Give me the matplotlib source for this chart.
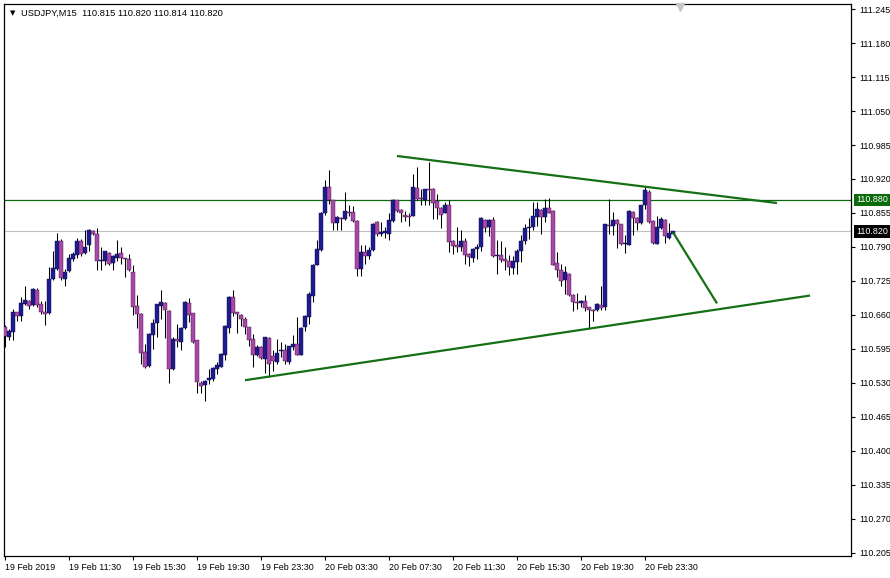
import numpy as np
import matplotlib
matplotlib.use("Agg")
import matplotlib.pyplot as plt
import matplotlib.transforms as mtransforms

plt.rcParams['font.family'] = ['Liberation Sans', 'DejaVu Sans']

# USDJPY M15, bars from 19 Feb 07:30 onwards
opens = [110.636, 110.617, 110.627, 110.665, 110.657, 110.681, 110.686, 110.678, 110.708, 110.681,
         110.666, 110.663, 110.729, 110.747, 110.801, 110.729, 110.744, 110.767, 110.774, 110.801,
         110.778, 110.793, 110.820, 110.814, 110.764, 110.763, 110.778, 110.759, 110.769, 110.778,
         110.768, 110.767, 110.742, 110.677, 110.662, 110.589, 110.563, 110.622, 110.645, 110.677,
         110.682, 110.668, 110.556, 110.614, 110.609, 110.634, 110.683, 110.663, 110.611, 110.530,
         110.525, 110.536, 110.537, 110.556, 110.561, 110.584, 110.635, 110.695, 110.665, 110.660,
         110.652, 110.636, 110.613, 110.583, 110.598, 110.576, 110.616, 110.582, 110.569, 110.591,
         110.592, 110.569, 110.598, 110.604, 110.584, 110.636, 110.655, 110.696, 110.756, 110.785,
         110.854, 110.905, 110.879, 110.836, 110.846, 110.844, 110.857, 110.857, 110.840, 110.748,
         110.780, 110.772, 110.785, 110.838, 110.815, 110.817, 110.815, 110.840, 110.879, 110.861,
         110.852, 110.850, 110.850, 110.903, 110.884, 110.880, 110.901, 110.901, 110.878, 110.864,
         110.855, 110.870, 110.801, 110.793, 110.790, 110.802, 110.776, 110.769, 110.786, 110.790,
         110.842, 110.828, 110.842, 110.773, 110.774, 110.766, 110.764, 110.750, 110.761, 110.783,
         110.802, 110.826, 110.828, 110.848, 110.861, 110.847, 110.865, 110.859, 110.759, 110.745,
         110.726, 110.739, 110.699, 110.685, 110.683, 110.687, 110.675, 110.669, 110.670, 110.679,
         110.675, 110.832, 110.831, 110.841, 110.833, 110.795, 110.794, 110.857, 110.846, 110.836,
         110.870, 110.896, 110.839, 110.796, 110.827, 110.842, 110.808, 110.815]
highs = [110.640, 110.633, 110.671, 110.666, 110.694, 110.716, 110.689, 110.712, 110.711, 110.687,
         110.687, 110.751, 110.783, 110.817, 110.806, 110.748, 110.777, 110.780, 110.808, 110.806,
         110.822, 110.825, 110.822, 110.827, 110.790, 110.783, 110.780, 110.774, 110.804, 110.790,
         110.769, 110.777, 110.755, 110.699, 110.663, 110.604, 110.625, 110.652, 110.681, 110.708,
         110.684, 110.670, 110.617, 110.643, 110.636, 110.687, 110.692, 110.664, 110.612, 110.534,
         110.535, 110.556, 110.560, 110.569, 110.588, 110.640, 110.696, 110.707, 110.666, 110.662,
         110.655, 110.637, 110.623, 110.603, 110.601, 110.618, 110.617, 110.592, 110.614, 110.608,
         110.604, 110.601, 110.622, 110.655, 110.636, 110.660, 110.703, 110.758, 110.804, 110.857,
         110.919, 110.938, 110.880, 110.850, 110.848, 110.895, 110.870, 110.868, 110.841, 110.793,
         110.793, 110.790, 110.836, 110.839, 110.838, 110.828, 110.854, 110.882, 110.880, 110.863,
         110.859, 110.854, 110.930, 110.943, 110.901, 110.901, 110.953, 110.903, 110.892, 110.866,
         110.876, 110.879, 110.804, 110.829, 110.822, 110.808, 110.778, 110.788, 110.796, 110.847,
         110.844, 110.844, 110.847, 110.804, 110.802, 110.790, 110.774, 110.772, 110.786, 110.812,
         110.833, 110.846, 110.876, 110.876, 110.863, 110.882, 110.884, 110.860, 110.780, 110.758,
         110.753, 110.740, 110.700, 110.701, 110.689, 110.699, 110.676, 110.671, 110.682, 110.716,
         110.834, 110.882, 110.857, 110.844, 110.834, 110.812, 110.860, 110.858, 110.848, 110.871,
         110.905, 110.898, 110.842, 110.850, 110.847, 110.844, 110.836, 110.820]
lows = [110.598, 110.612, 110.612, 110.649, 110.648, 110.678, 110.671, 110.677, 110.676, 110.662,
        110.640, 110.662, 110.726, 110.745, 110.727, 110.716, 110.742, 110.764, 110.769, 110.772,
        110.776, 110.783, 110.812, 110.745, 110.745, 110.755, 110.755, 110.745, 110.764, 110.758,
        110.732, 110.744, 110.659, 110.635, 110.566, 110.558, 110.561, 110.595, 110.617, 110.652,
        110.616, 110.530, 110.555, 110.598, 110.593, 110.633, 110.646, 110.606, 110.510, 110.510,
        110.496, 110.528, 110.534, 110.547, 110.560, 110.574, 110.625, 110.657, 110.625, 110.638,
        110.624, 110.601, 110.560, 110.582, 110.576, 110.548, 110.542, 110.553, 110.566, 110.579,
        110.566, 110.566, 110.592, 110.583, 110.583, 110.630, 110.643, 110.684, 110.755, 110.783,
        110.852, 110.873, 110.822, 110.822, 110.822, 110.842, 110.850, 110.838, 110.735, 110.735,
        110.758, 110.767, 110.783, 110.810, 110.810, 110.808, 110.804, 110.838, 110.857, 110.838,
        110.840, 110.831, 110.850, 110.880, 110.870, 110.870, 110.870, 110.844, 110.844, 110.826,
        110.854, 110.780, 110.777, 110.780, 110.783, 110.758, 110.753, 110.761, 110.767, 110.783,
        110.818, 110.810, 110.771, 110.739, 110.761, 110.745, 110.737, 110.739, 110.739, 110.761,
        110.796, 110.806, 110.822, 110.831, 110.815, 110.838, 110.854, 110.755, 110.733, 110.716,
        110.700, 110.697, 110.667, 110.671, 110.676, 110.668, 110.633, 110.649, 110.668, 110.670,
        110.670, 110.815, 110.812, 110.788, 110.793, 110.778, 110.793, 110.812, 110.822, 110.834,
        110.863, 110.836, 110.795, 110.795, 110.825, 110.797, 110.806, 110.814]
closes = [110.620, 110.630, 110.665, 110.657, 110.682, 110.689, 110.677, 110.710, 110.678, 110.665,
          110.662, 110.729, 110.750, 110.802, 110.730, 110.743, 110.769, 110.776, 110.802, 110.776,
          110.790, 110.822, 110.814, 110.764, 110.765, 110.782, 110.758, 110.772, 110.777, 110.769,
          110.766, 110.745, 110.675, 110.662, 110.588, 110.560, 110.624, 110.645, 110.680, 110.684,
          110.670, 110.556, 110.614, 110.610, 110.635, 110.684, 110.659, 110.609, 110.531, 110.523,
          110.534, 110.539, 110.558, 110.564, 110.586, 110.638, 110.695, 110.664, 110.662, 110.652,
          110.636, 110.611, 110.584, 110.598, 110.578, 110.617, 110.566, 110.571, 110.588, 110.592,
          110.571, 110.600, 110.604, 110.584, 110.635, 110.657, 110.700, 110.756, 110.786, 110.854,
          110.905, 110.879, 110.836, 110.848, 110.844, 110.858, 110.854, 110.840, 110.748, 110.780,
          110.772, 110.785, 110.834, 110.815, 110.818, 110.820, 110.841, 110.880, 110.859, 110.854,
          110.848, 110.847, 110.905, 110.882, 110.882, 110.900, 110.898, 110.874, 110.865, 110.852,
          110.871, 110.799, 110.792, 110.790, 110.802, 110.775, 110.771, 110.786, 110.789, 110.845,
          110.827, 110.842, 110.772, 110.774, 110.765, 110.763, 110.751, 110.764, 110.783, 110.802,
          110.827, 110.829, 110.850, 110.863, 110.847, 110.865, 110.855, 110.756, 110.745, 110.725,
          110.742, 110.699, 110.684, 110.682, 110.687, 110.673, 110.670, 110.667, 110.680, 110.673,
          110.833, 110.830, 110.841, 110.833, 110.795, 110.797, 110.858, 110.846, 110.836, 110.870,
          110.898, 110.838, 110.797, 110.829, 110.844, 110.810, 110.817, 110.820]

time_labels = ["19 Feb 2019", "19 Feb 11:30", "19 Feb 15:30", "19 Feb 19:30", "19 Feb 23:30",
               "20 Feb 03:30", "20 Feb 07:30", "20 Feb 11:30", "20 Feb 15:30", "20 Feb 19:30",
               "20 Feb 23:30"]
price_ticks = [round(110.205 + 0.065 * k, 3) for k in range(17)]

# drawn objects: (bar index, price) anchors
upper_line = ([98, 193], [110.964, 110.874])
lower_line = ([60, 201.25], [110.535, 110.697])
arrow_line = ([167, 178], [110.818, 110.682])
hline_level = 110.880
bid_level = 110.820

o = np.array(opens); h = np.array(highs); l = np.array(lows); c = np.array(closes)
h = np.maximum(h, np.maximum(o, c))
l = np.minimum(l, np.minimum(o, c))
x = np.arange(len(o))
up = c >= o

fig = plt.figure(figsize=(8.9, 5.78), dpi=100)
ax = fig.add_axes([4 / 890, 22 / 578, 847 / 890, 552 / 578])
ax.set_xlim(-0.25, 211.5)
ax.set_ylim(110.205 - 3.3 / 522, 110.205 + 548 / 522)

green = '#0b6a0b'
ax.axhline(bid_level, color='#c0c0c0', lw=0.8, zorder=1)
ax.axhline(hline_level, color=green, lw=0.9, zorder=1)

ax.vlines(x, l, h, color='black', lw=0.75, zorder=2)
bot = np.minimum(o, c)
hgt = np.maximum(np.abs(c - o), 0.0008)
ax.bar(x[up], hgt[up], bottom=bot[up], width=0.76, color='#1c1c90', edgecolor='#0a0a40', lw=0.3, zorder=3)
ax.bar(x[~up], hgt[~up], bottom=bot[~up], width=0.76, color='#a848a8', edgecolor='#401040', lw=0.3, zorder=3)

for xs, ys in (upper_line, lower_line, arrow_line):
    ax.plot(xs, ys, color='#157015', lw=1.6, solid_capstyle='butt', zorder=4)

# axes styling
ax.yaxis.tick_right()
ax.set_yticks(price_ticks)
ax.set_yticklabels([f"{p:.3f}" for p in price_ticks])
ax.set_xticks(np.arange(0, 16 * len(time_labels), 16))
ax.set_xticklabels(time_labels, ha='left')
ax.tick_params(axis='both', direction='out', length=3, width=0.8, labelsize=6.4, colors='black', pad=2)
ax.tick_params(axis='y', pad=3)
for s in ax.spines.values():
    s.set_linewidth(0.9)

trans = mtransforms.blended_transform_factory(ax.transAxes, ax.transData)
ax.text(1.006, hline_level, "110.880", transform=trans, fontsize=6.4, color='white', va='center', ha='left',
        bbox=dict(boxstyle='square,pad=0.2', fc=green, ec='none'), zorder=6, clip_on=False)
ax.text(1.006, bid_level, "110.820", transform=trans, fontsize=6.4, color='white', va='center', ha='left',
        bbox=dict(boxstyle='square,pad=0.2', fc='black', ec='none'), zorder=6, clip_on=False)

ax.text(0.007, 0.983, "\u25bc", transform=ax.transAxes, fontsize=5, va='center', ha='left',
        family=['DejaVu Sans'])
ax.text(0.020, 0.983, "USDJPY,M15  110.815 110.820 110.814 110.820", transform=ax.transAxes,
        fontsize=6.7, va='center', ha='left')
ax.plot([168.75], [111.25], marker='v', color='#c8c8c8', ms=6, clip_on=False, zorder=7)

fig.savefig("out.png", dpi=100)
